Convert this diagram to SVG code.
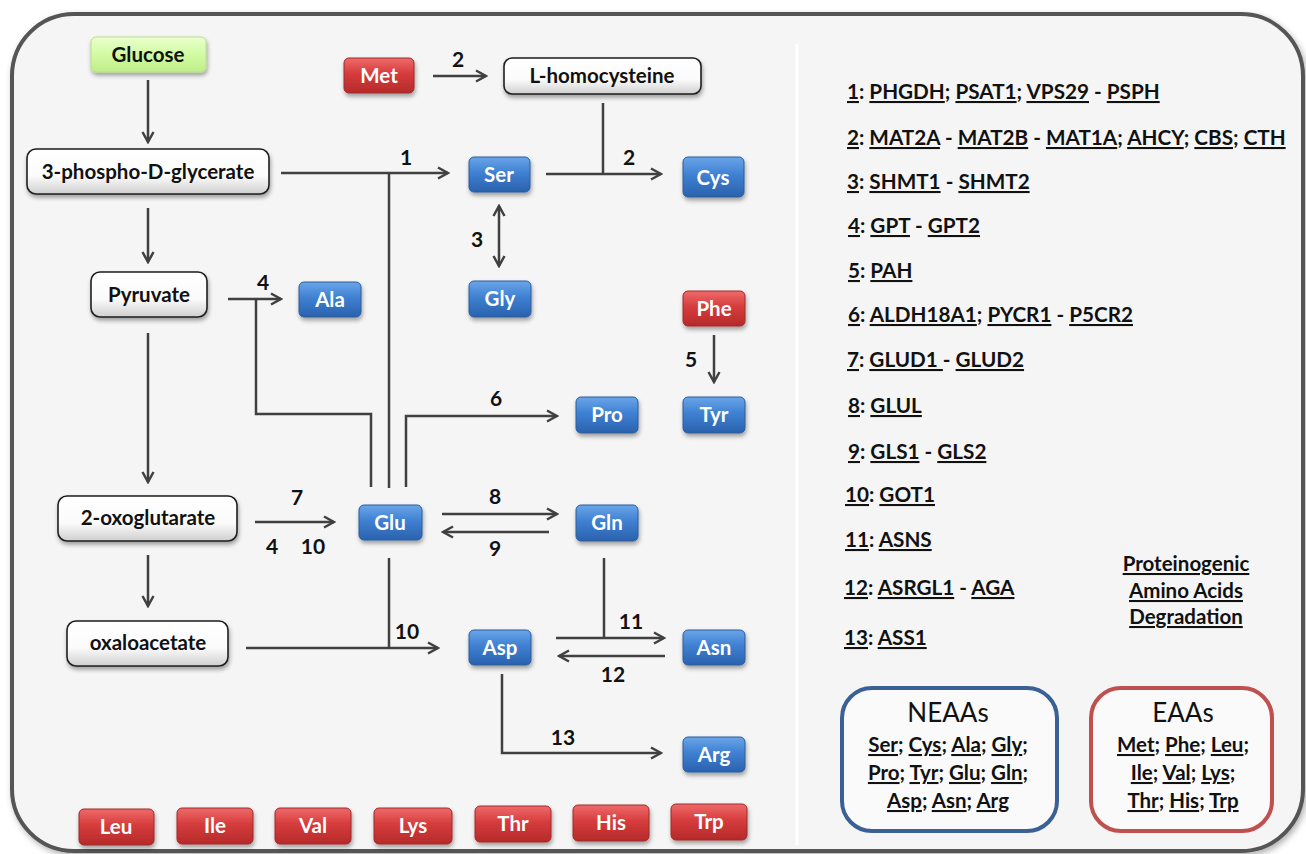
<svg xmlns="http://www.w3.org/2000/svg" width="1306" height="854" viewBox="0 0 1306 854">
<defs>
<linearGradient id="gBlue" x1="0" y1="0" x2="0" y2="1">
<stop offset="0" stop-color="#6aa5e8"/><stop offset="0.45" stop-color="#3f80d2"/><stop offset="1" stop-color="#2a62ad"/>
</linearGradient>
<linearGradient id="gRed" x1="0" y1="0" x2="0" y2="1">
<stop offset="0" stop-color="#ef6a6a"/><stop offset="0.45" stop-color="#d63c3c"/><stop offset="1" stop-color="#b52a2a"/>
</linearGradient>
<linearGradient id="gGreen" x1="0" y1="0" x2="0" y2="1">
<stop offset="0" stop-color="#eaffcc"/><stop offset="0.5" stop-color="#d2fba2"/><stop offset="1" stop-color="#bfee88"/>
</linearGradient>
<linearGradient id="gWhite" x1="0" y1="0" x2="0" y2="1">
<stop offset="0" stop-color="#ffffff"/><stop offset="0.6" stop-color="#fbfbfb"/><stop offset="1" stop-color="#cfcfcf"/>
</linearGradient>
<filter id="sh" x="-20%" y="-20%" width="140%" height="160%">
<feDropShadow dx="1" dy="3" stdDeviation="2" flood-color="#000" flood-opacity="0.35"/>
</filter>
<filter id="fsh" x="-5%" y="-5%" width="110%" height="110%">
<feDropShadow dx="2" dy="3" stdDeviation="3" flood-color="#000" flood-opacity="0.3"/>
</filter>
<marker id="ah" markerUnits="userSpaceOnUse" viewBox="0 0 14 14" markerWidth="14" markerHeight="14" refX="12" refY="7" orient="auto-start-reverse">
<path d="M2,1.5 L12,7 L2,12.5" fill="none" stroke="#404040" stroke-width="2.5" stroke-linejoin="miter"/>
</marker>
<style>
text{font-family:Lato,"Liberation Sans",sans-serif;}
.nt{font-size:20.5px;font-weight:bold;text-anchor:middle;}
.w{fill:#fff;}
.k{fill:#111;}
.blue{fill:url(#gBlue);stroke:#2c5d9c;stroke-width:1;filter:url(#sh);}
.red{fill:url(#gRed);stroke:#a02828;stroke-width:1;filter:url(#sh);}
.wht{fill:url(#gWhite);stroke:#1e1e1e;stroke-width:1.6;filter:url(#sh);}
.grn{fill:url(#gGreen);stroke:#b6e08a;stroke-width:1;filter:url(#sh);}
.c{fill:none;stroke:#404040;stroke-width:2.5;}
.a{marker-end:url(#ah);}
.lbl{font-size:21px;font-weight:bold;fill:#111;text-anchor:middle;}
.lg{font-size:20.7px;font-weight:bold;fill:#111;}
.u{text-decoration:underline;}
.ttl{font-size:26px;fill:#111;text-anchor:middle;}
.aa{font-size:20.5px;font-weight:bold;fill:#111;text-anchor:middle;}
</style>
</defs>
<rect x="0" y="0" width="1306" height="854" fill="#ffffff"/>
<rect id="frame" x="12" y="14" width="1291" height="837" rx="62" fill="#f5f5f5" stroke="#555555" stroke-width="4" filter="url(#fsh)"/>
<line x1="797" y1="44" x2="797" y2="845" stroke="#ffffff" stroke-width="3"/>

<g id="connectors">
<path class="c a" d="M148,80 V142"/>
<path class="c a" d="M148,208 V262"/>
<path class="c a" d="M148,333 V482"/>
<path class="c a" d="M148,555 V606"/>
<path class="c a" d="M433,76 H486"/>
<path class="c a" d="M281,173 H448"/>
<path class="c" d="M389,173 V488"/>
<path class="c" d="M603,103 V174"/>
<path class="c a" d="M546,174 H661"/>
<path class="c a" d="M499,266 V206" style="marker-start:url(#ah)"/>
<path class="c a" d="M228,299 H281"/>
<path class="c" d="M371,487 V414 H256 V299"/>
<path class="c a" d="M406,487 V416 H557"/>
<path class="c a" d="M714,335 V382"/>
<path class="c a" d="M255,522 H334"/>
<path class="c a" d="M442,514 H557"/>
<path class="c a" d="M549,532 H443"/>
<path class="c" d="M389,558 V648"/>
<path class="c a" d="M246,648 H438"/>
<path class="c" d="M604,558 V638"/>
<path class="c a" d="M556,638 H664"/>
<path class="c a" d="M665,656 H559"/>
<path class="c a" d="M502,674 V753 H661"/>
</g>

<g id="edge-labels">
<text class="lbl" x="458" y="67">2</text>
<text class="lbl" x="406" y="165">1</text>
<text class="lbl" x="629" y="165">2</text>
<text class="lbl" x="477" y="247">3</text>
<text class="lbl" x="263" y="290">4</text>
<text class="lbl" x="496" y="406">6</text>
<text class="lbl" x="691" y="367">5</text>
<text class="lbl" x="297" y="505">7</text>
<text class="lbl" x="272" y="554">4</text>
<text class="lbl" x="313" y="554">10</text>
<text class="lbl" x="495" y="504">8</text>
<text class="lbl" x="495" y="556">9</text>
<text class="lbl" x="407" y="639">10</text>
<text class="lbl" x="631" y="629">11</text>
<text class="lbl" x="613" y="682">12</text>
<text class="lbl" x="563" y="745">13</text>
</g>

<g id="n-glucose"><rect class="grn" x="91" y="37" width="115" height="35" rx="5"/><text class="nt k" x="148" y="62">Glucose</text></g>
<g id="n-met"><rect class="red" x="344" y="58" width="70" height="35" rx="5"/><text class="nt w" x="379" y="83">Met</text></g>
<g id="n-lhomocysteine"><rect class="wht" x="504" y="58" width="197" height="36" rx="8"/><text class="nt k" x="602" y="83">L-homocysteine</text></g>
<g id="n-3pg"><rect class="wht" x="27" y="149" width="242" height="45" rx="9"/><text class="nt k" x="148" y="179">3-phospho-D-glycerate</text></g>
<g id="n-ser"><rect class="blue" x="469" y="157" width="61" height="35" rx="5"/><text class="nt w" x="499" y="182">Ser</text></g>
<g id="n-cys"><rect class="blue" x="683" y="157" width="61" height="40" rx="5"/><text class="nt w" x="713" y="185">Cys</text></g>
<g id="n-gly"><rect class="blue" x="469" y="281" width="62" height="36" rx="5"/><text class="nt w" x="500" y="306">Gly</text></g>
<g id="n-pyruvate"><rect class="wht" x="91" y="272" width="116" height="45" rx="9"/><text class="nt k" x="149" y="302">Pyruvate</text></g>
<g id="n-ala"><rect class="blue" x="299" y="282" width="62" height="35" rx="5"/><text class="nt w" x="330" y="307">Ala</text></g>
<g id="n-phe"><rect class="red" x="683" y="291" width="62" height="35" rx="5"/><text class="nt w" x="714" y="316">Phe</text></g>
<g id="n-pro"><rect class="blue" x="576" y="397" width="62" height="36" rx="5"/><text class="nt w" x="607" y="422">Pro</text></g>
<g id="n-tyr"><rect class="blue" x="683" y="397" width="62" height="36" rx="5"/><text class="nt w" x="714" y="422">Tyr</text></g>
<g id="n-2og"><rect class="wht" x="58" y="496" width="179" height="45" rx="9"/><text class="nt k" x="148" y="525">2-oxoglutarate</text></g>
<g id="n-glu"><rect class="blue" x="359" y="505" width="63" height="35" rx="5"/><text class="nt w" x="390" y="530">Glu</text></g>
<g id="n-gln"><rect class="blue" x="576" y="505" width="62" height="36" rx="5"/><text class="nt w" x="607" y="530">Gln</text></g>
<g id="n-oxaloacetate"><rect class="wht" x="67" y="621" width="161" height="45" rx="9"/><text class="nt k" x="148" y="650">oxaloacetate</text></g>
<g id="n-asp"><rect class="blue" x="469" y="630" width="62" height="35" rx="5"/><text class="nt w" x="500" y="655">Asp</text></g>
<g id="n-asn"><rect class="blue" x="683" y="630" width="62" height="35" rx="5"/><text class="nt w" x="714" y="655">Asn</text></g>
<g id="n-arg"><rect class="blue" x="683" y="737" width="62" height="35" rx="5"/><text class="nt w" x="714" y="762">Arg</text></g>

<g id="n-leu"><rect class="red" x="79" y="809" width="75" height="36" rx="5"/><text class="nt w" x="116" y="834">Leu</text></g>
<g id="n-ile"><rect class="red" x="177" y="808" width="76" height="36" rx="5"/><text class="nt w" x="215" y="833">Ile</text></g>
<g id="n-val"><rect class="red" x="275" y="808" width="76" height="36" rx="5"/><text class="nt w" x="313" y="833">Val</text></g>
<g id="n-lys"><rect class="red" x="374" y="808" width="78" height="36" rx="5"/><text class="nt w" x="413" y="833">Lys</text></g>
<g id="n-thr"><rect class="red" x="475" y="806" width="76" height="36" rx="5"/><text class="nt w" x="513" y="831">Thr</text></g>
<g id="n-his"><rect class="red" x="573" y="805" width="76" height="36" rx="5"/><text class="nt w" x="611" y="830">His</text></g>
<g id="n-trp"><rect class="red" x="671" y="804" width="76" height="36" rx="5"/><text class="nt w" x="709" y="829">Trp</text></g>

<g id="legend">
<text class="lg" x="847" y="99"><tspan class="u">1</tspan>: <tspan class="u">PHGDH</tspan>; <tspan class="u">PSAT1</tspan>; <tspan class="u">VPS29</tspan> - <tspan class="u">PSPH</tspan></text>
<text class="lg" x="847" y="145"><tspan class="u">2</tspan>: <tspan class="u">MAT2A</tspan> - <tspan class="u">MAT2B</tspan> - <tspan class="u">MAT1A</tspan>; <tspan class="u">AHCY</tspan>; <tspan class="u">CBS</tspan>; <tspan class="u">CTH</tspan></text>
<text class="lg" x="847" y="189"><tspan class="u">3</tspan>: <tspan class="u">SHMT1</tspan> - <tspan class="u">SHMT2</tspan></text>
<text class="lg" x="848" y="233"><tspan class="u">4</tspan>: <tspan class="u">GPT</tspan> - <tspan class="u">GPT2</tspan></text>
<text class="lg" x="848" y="278"><tspan class="u">5</tspan>: <tspan class="u">PAH</tspan></text>
<text class="lg" x="848" y="322"><tspan class="u">6</tspan>: <tspan class="u">ALDH18A1</tspan>; <tspan class="u">PYCR1</tspan> - <tspan class="u">P5CR2</tspan></text>
<text class="lg" x="847" y="367"><tspan class="u">7</tspan>: <tspan class="u">GLUD1 </tspan>- <tspan class="u">GLUD2</tspan></text>
<text class="lg" x="848" y="413"><tspan class="u">8</tspan>: <tspan class="u">GLUL</tspan></text>
<text class="lg" x="848" y="459"><tspan class="u">9</tspan>: <tspan class="u">GLS1</tspan> - <tspan class="u">GLS2</tspan></text>
<text class="lg" x="845" y="502"><tspan class="u">10</tspan>: <tspan class="u">GOT1</tspan></text>
<text class="lg" x="845" y="547"><tspan class="u">11</tspan>: <tspan class="u">ASNS</tspan></text>
<text class="lg" x="844" y="595"><tspan class="u">12</tspan>: <tspan class="u">ASRGL1</tspan> - <tspan class="u">AGA</tspan></text>
<text class="lg" x="844" y="645"><tspan class="u">13</tspan>: <tspan class="u">ASS1</tspan></text>
<text class="aa u" x="1186" y="571">Proteinogenic</text>
<text class="aa u" x="1186" y="598">Amino Acids</text>
<text class="aa u" x="1186" y="624">Degradation</text>
</g>

<g id="neaas">
<rect x="842" y="688" width="215" height="143" rx="30" fill="#fafafa" stroke="#3a6096" stroke-width="4"/>
<text class="ttl" x="948" y="722">NEAAs</text>
<text class="aa" x="948" y="752"><tspan class="u">Ser</tspan>; <tspan class="u">Cys</tspan>; <tspan class="u">Ala</tspan>; <tspan class="u">Gly</tspan>;</text>
<text class="aa" x="948" y="780"><tspan class="u">Pro</tspan>; <tspan class="u">Tyr</tspan>; <tspan class="u">Glu</tspan>; <tspan class="u">Gln</tspan>;</text>
<text class="aa" x="948" y="808"><tspan class="u">Asp</tspan>; <tspan class="u">Asn</tspan>; <tspan class="u">Arg</tspan></text>
</g>
<g id="eaas">
<rect x="1091" y="688" width="181" height="143" rx="30" fill="#fafafa" stroke="#c0504d" stroke-width="4"/>
<text class="ttl" x="1183" y="722">EAAs</text>
<text class="aa" x="1183" y="752"><tspan class="u">Met</tspan>; <tspan class="u">Phe</tspan>; <tspan class="u">Leu</tspan>;</text>
<text class="aa" x="1183" y="780"><tspan class="u">Ile</tspan>; <tspan class="u">Val</tspan>; <tspan class="u">Lys</tspan>;</text>
<text class="aa" x="1183" y="808"><tspan class="u">Thr</tspan>; <tspan class="u">His</tspan>; <tspan class="u">Trp</tspan></text>
</g>
</svg>
